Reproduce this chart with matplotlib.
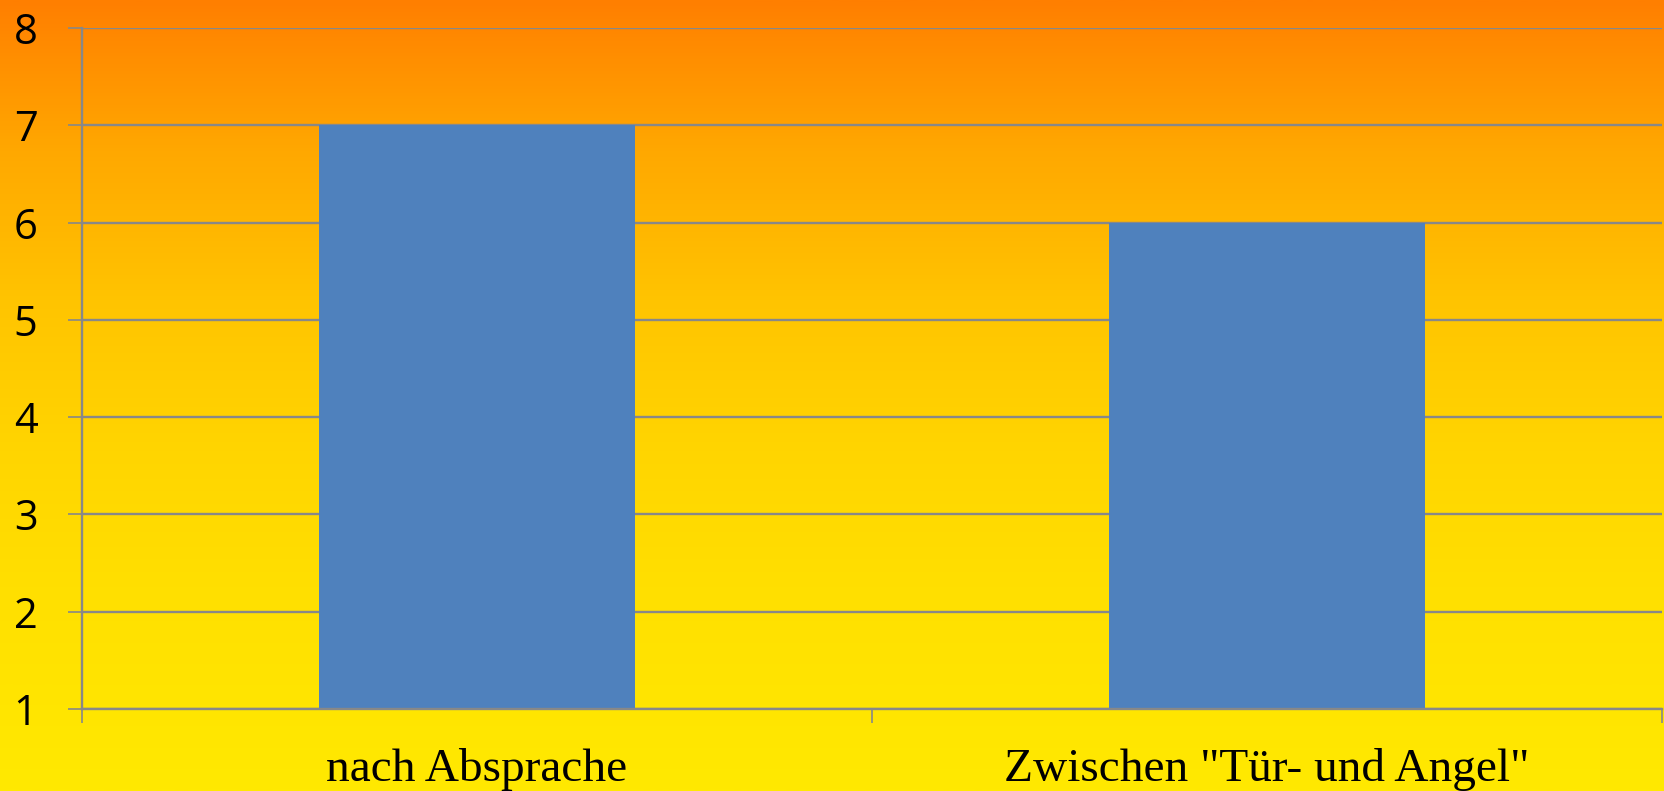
import matplotlib
matplotlib.use('Agg')
import numpy as np
import matplotlib.pyplot as plt
from matplotlib.colors import LinearSegmentedColormap

# data
categories = ['nach Absprache', 'Zwischen "Tür- und Angel"']
values = [7, 6]
yticks = [1, 2, 3, 4, 5, 6, 7, 8]

# background gradient stops (top -> bottom)
bg_stops = [(0.0, '#FF7F00'), (0.19, '#FFA800'), (0.38, '#FFC400'),
            (0.57, '#FFD500'), (0.76, '#FFE000'), (1.0, '#FFE900')]

fig = plt.figure(figsize=(16.65, 7.91), dpi=100)

bg = fig.add_axes([0, 0, 1, 1], zorder=0)
cmap = LinearSegmentedColormap.from_list('bg', bg_stops)
grad = np.linspace(0, 1, 512).reshape(-1, 1)
bg.imshow(grad, cmap=cmap, aspect='auto', extent=[0, 1, 0, 1], origin='upper')
bg.set_axis_off()

ax = fig.add_axes([0.04925, 0.1037, 0.94895, 0.8609], zorder=1)
ax.patch.set_alpha(0)

x = np.arange(len(categories))
ax.bar(x, values, width=0.4, color='#4F81BD', zorder=2)

ax.set_ylim(1, 8)
ax.set_xlim(-0.5, len(categories) - 0.5)
ax.set_yticks(yticks)
ax.set_yticklabels([str(v) for v in yticks], fontfamily='Open Sans', fontsize=30)
ax.yaxis.grid(True, color='#888888', linewidth=1.7, zorder=1)
ax.set_axisbelow(True)

ax.set_xticks(x)
ax.set_xticklabels(categories, fontfamily='Liberation Serif', fontsize=34)
ax.set_xticks(np.arange(len(categories) + 1) - 0.5, minor=True)
ax.tick_params(axis='x', which='major', length=0, pad=28)
ax.tick_params(axis='x', which='minor', length=10, width=1.2, color='#888888')
ax.tick_params(axis='y', length=10, width=1.2, color='#888888', pad=22)

for s in ['top', 'right']:
    ax.spines[s].set_visible(False)
for s in ['left', 'bottom']:
    ax.spines[s].set_color('#888888')
    ax.spines[s].set_linewidth(1.7)

plt.savefig('out.png', dpi=100)
